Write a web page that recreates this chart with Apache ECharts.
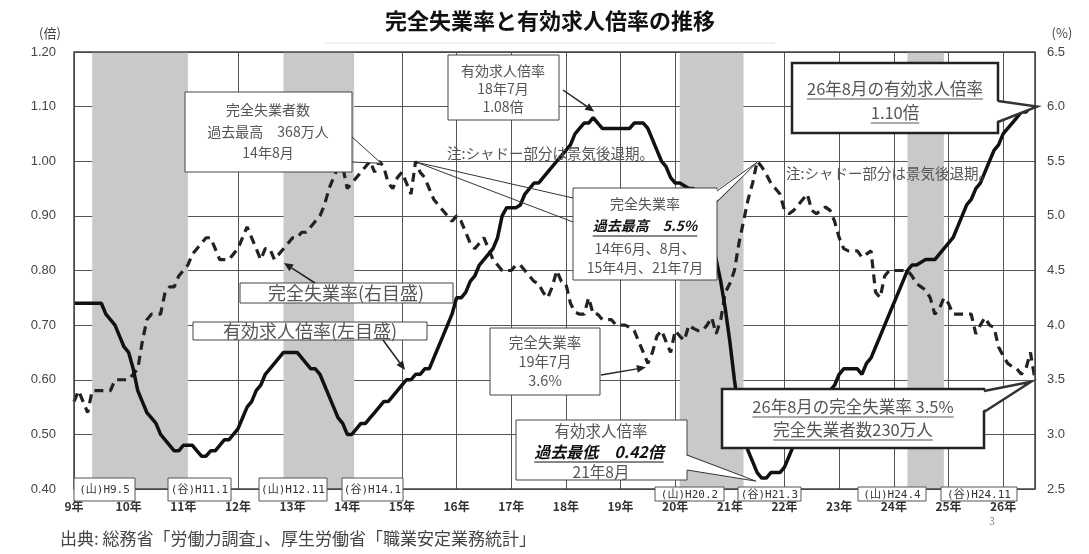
<!DOCTYPE html>
<html><head><meta charset="utf-8">
<script src="https://cdn.jsdelivr.net/npm/echarts/dist/echarts.min.js"></script>
<style>html,body{margin:0;padding:0;background:#fff}#c{width:1089px;height:554px}</style>
</head><body><div id="c"></div>
<script>
// ---- data (month index 0 = 平成9年1月) ----
const xLabels = ['9年','10年','11年','12年','13年','14年','15年','16年','17年','18年','19年','20年','21年','22年','23年','24年','25年','26年'];
// 有効求人倍率 (倍, left axis), monthly
const jobs = [
  0.74,0.74,0.74,0.74,0.74,0.74,0.74,0.72,0.71,0.70,0.68,0.66,
  0.65,0.62,0.58,0.56,0.54,0.53,0.52,0.50,0.49,0.48,0.47,0.47,
  0.48,0.48,0.48,0.47,0.46,0.46,0.47,0.47,0.48,0.49,0.49,0.50,
  0.51,0.53,0.55,0.56,0.58,0.59,0.61,0.62,0.63,0.64,0.65,0.65,
  0.65,0.65,0.64,0.63,0.62,0.62,0.61,0.59,0.57,0.55,0.53,0.52,
  0.50,0.50,0.51,0.52,0.52,0.53,0.54,0.55,0.56,0.56,0.57,0.58,
  0.59,0.60,0.60,0.61,0.61,0.62,0.62,0.64,0.66,0.68,0.70,0.72,
  0.75,0.75,0.76,0.78,0.79,0.81,0.82,0.83,0.84,0.86,0.90,0.915,
  0.915,0.915,0.92,0.94,0.95,0.96,0.96,0.97,0.98,0.99,1.00,1.01,
  1.02,1.03,1.05,1.06,1.07,1.07,1.08,1.07,1.06,1.06,1.06,1.06,
  1.06,1.06,1.06,1.07,1.07,1.07,1.06,1.04,1.02,1.00,0.99,0.97,
  0.96,0.96,0.955,0.95,0.95,0.94,0.91,0.88,0.85,0.82,0.78,0.73,
  0.67,0.60,0.54,0.50,0.47,0.45,0.43,0.42,0.42,0.43,0.43,0.43,
  0.44,0.46,0.48,0.50,0.51,0.52,0.53,0.54,0.55,0.56,0.58,0.59,
  0.61,0.62,0.62,0.62,0.62,0.61,0.63,0.64,0.66,0.68,0.70,0.72,
  0.74,0.76,0.78,0.80,0.81,0.81,0.815,0.82,0.82,0.82,0.83,0.84,
  0.85,0.86,0.88,0.90,0.92,0.93,0.95,0.96,0.98,1.00,1.02,1.03,
  1.05,1.06,1.07,1.08,1.09,1.09,1.10,1.10
];
// 完全失業率 (%, right axis), monthly
const unemp = [
  3.3,3.4,3.3,3.2,3.4,3.4,3.4,3.4,3.4,3.5,3.5,3.5,
  3.5,3.55,3.6,3.85,4.05,4.1,4.1,4.1,4.3,4.35,4.35,4.45,
  4.5,4.55,4.65,4.7,4.75,4.8,4.8,4.7,4.6,4.6,4.6,4.65,
  4.7,4.8,4.9,4.8,4.7,4.6,4.7,4.7,4.6,4.65,4.7,4.75,
  4.8,4.8,4.85,4.85,4.9,4.95,5.0,5.1,5.25,5.35,5.45,5.45,
  5.25,5.3,5.35,5.4,5.45,5.5,5.4,5.5,5.45,5.3,5.25,5.35,
  5.4,5.3,5.2,5.5,5.4,5.35,5.25,5.15,5.1,5.05,5.0,4.95,
  5.0,4.95,4.85,4.75,4.7,4.75,4.8,4.7,4.6,4.55,4.5,4.5,
  4.5,4.55,4.55,4.5,4.45,4.4,4.38,4.3,4.25,4.35,4.5,4.4,
  4.38,4.2,4.12,4.1,4.1,4.25,4.1,4.1,4.05,4.05,4.05,4.0,
  4.0,4.0,3.98,3.95,3.85,3.75,3.65,3.75,3.9,3.95,3.85,3.75,
  3.95,3.9,3.86,4.0,3.97,3.95,3.95,4.0,4.07,3.92,4.05,4.3,
  4.38,4.5,4.75,4.95,5.15,5.3,5.5,5.45,5.38,5.3,5.25,5.2,
  5.05,5.02,5.05,5.1,5.15,5.2,5.05,5.02,5.05,5.08,5.05,4.95,
  4.8,4.7,4.68,4.68,4.68,4.62,4.65,4.68,4.3,4.25,4.45,4.5,
  4.5,4.5,4.5,4.5,4.45,4.38,4.35,4.32,4.25,4.1,4.15,4.25,
  4.2,4.1,4.1,4.1,4.1,4.1,3.92,4.0,4.07,4.0,3.98,3.8,
  3.72,3.65,3.62,3.6,3.55,3.6,3.75,3.5
];
// 景気後退期 (start month, end month)
const recessions = [[4,25],[46,61.5],[133,147],[183,191]];
const turnLabels = ['(山)H9.5','(谷)H11.1','(山)H12.11','(谷)H14.1','(山)H20.2','(谷)H21.3','(山)H24.4','(谷)H24.11'];

const FONT = '"Noto Sans CJK JP","Noto Sans",sans-serif';
const MONO = '"DejaVu Sans Mono","Noto Sans CJK JP",monospace';
const chart = echarts.init(document.getElementById('c'));
const L = 74, T = 52, R = 1035, B = 489;
chart.setOption({
  animation:false,
  grid:{left:L, right:1089-R, top:T, bottom:554-B, show:false},
  xAxis:{type:'value', min:0, max:jobs.length-1, interval:12,
    axisLine:{show:false}, axisTick:{show:false},
    splitLine:{show:true, lineStyle:{color:'#555', width:1}},
    axisLabel:{formatter:v => (v%12===0 ? (xLabels[v/12]||'') : ''), margin:11, color:'#333', fontSize:12, fontWeight:'bold', fontFamily:FONT, showMaxLabel:false}},
  yAxis:[
    {type:'value', min:0.4, max:1.2, interval:0.1, position:'left',
     axisLine:{show:false}, axisTick:{show:false}, splitLine:{lineStyle:{color:'#555', width:1}},
     axisLabel:{formatter:v => v.toFixed(2), margin:18, color:'#444', fontSize:13, fontFamily:'"Liberation Sans",Arial,sans-serif'}},
    {type:'value', min:2.5, max:6.5, interval:0.5, position:'right',
     axisLine:{show:false}, axisTick:{show:false}, splitLine:{show:false},
     axisLabel:{formatter:v => v.toFixed(1), margin:12, color:'#444', fontSize:13, fontFamily:'"Liberation Sans",Arial,sans-serif'}}
  ],
  series:[
    {type:'line', data:jobs.map((v,i)=>[i,v]), symbol:'none', silent:true, lineStyle:{opacity:0}, z:1,
     markArea:{silent:true, itemStyle:{color:'#c9c9c9', opacity:1}, data:recessions.map(r=>[{xAxis:r[0]},{xAxis:r[1]}])}},
    {name:'完全失業率', type:'line', yAxisIndex:1, data:unemp.map((v,i)=>[i,v]), symbol:'none', lineStyle:{color:'#222', width:3.2, type:[9,6]}, z:3},
    {name:'有効求人倍率', type:'line', yAxisIndex:0, data:jobs.map((v,i)=>[i,v]), symbol:'none', lineStyle:{color:'#111', width:3.5}, z:4}
  ]
});

// ---- annotations ----
const pJ = m => chart.convertToPixel({xAxisIndex:0, yAxisIndex:0}, [m, jobs[m]]);
const pU = m => chart.convertToPixel({xAxisIndex:0, yAxisIndex:1}, [m, unemp[m]]);
const mctx = document.createElement('canvas').getContext('2d');
function tw(s, font){ mctx.font = font; return mctx.measureText(s).width; }
const G = [];
function rect(x,y,w,h,lw,stroke){ G.push({type:'rect', z:100, shape:{x,y,width:w,height:h}, style:{fill:'#fff', stroke:stroke||'#444', lineWidth:lw||1}}); }
function txt(s,x,y,font,fill,align,ul){
  fill = fill||'#555'; align = align||'center';
  G.push({type:'text', z:103, x, y, style:{text:s, font, fill, textAlign:align, textVerticalAlign:'middle', align:align, verticalAlign:'middle'}});
  if(ul){ const w = tw(s,font); const x0 = align==='center' ? x-w/2 : x;
    G.push({type:'line', z:103, shape:{x1:x0,y1:y+10,x2:x0+w,y2:y+10}, style:{stroke:fill, lineWidth:1}}); }
}
function wedge(bx, y1, y2, tip, lw, dir){
  const inset = (lw||1) + 1;
  G.push({type:'polygon', z:101, shape:{points:[[bx - dir*inset,y1],tip,[bx - dir*inset,y2]]}, style:{fill:'#fff', stroke:null, lineWidth:0}});
  G.push({type:'polyline', z:102, shape:{points:[[bx,y1],tip,[bx,y2]]}, style:{stroke:'#333', lineWidth:lw||1, fill:null}});
}
function arrow(x1,y1,x2,y2){
  const a = Math.atan2(y2-y1,x2-x1), HL = 9, HW = 4;
  const bx = x2-HL*Math.cos(a), by = y2-HL*Math.sin(a);
  G.push({type:'line', z:102, shape:{x1,y1,x2:bx,y2:by}, style:{stroke:'#222', lineWidth:1.5}});
  G.push({type:'polygon', z:102, shape:{points:[[x2,y2],[bx-HW*Math.sin(a),by+HW*Math.cos(a)],[bx+HW*Math.sin(a),by-HW*Math.cos(a)]]}, style:{fill:'#222'}});
}
// plot border
G.push({type:'rect', z:50, shape:{x:L,y:T,width:R-L,height:B-T}, style:{fill:null, stroke:'#444', lineWidth:1.5}});
// title and units
txt('完全失業率と有効求人倍率の推移', 550, 21, 'bold 22px '+FONT, '#111');
G.push({type:'line', z:99, shape:{x1:325,y1:43,x2:775,y2:43}, style:{stroke:'#e2e2e2', lineWidth:1}});
txt('(倍)', 50, 33, '13px '+FONT, '#444');
txt('(%)', 1062, 33, '13px '+FONT, '#444');

// a) 完全失業者数 過去最高
const pa = pU(67);
wedge(352, 137, 162, [pa[0]+2, pa[1]+2], 1, -1);
rect(185, 92, 167, 80);
txt('完全失業者数', 268, 110, '14px '+FONT);
txt('過去最高　368万人', 268, 132, '14px '+FONT);
txt('14年8月', 268, 153, '14px '+FONT);

// b) 有効求人倍率 18年7月
rect(448, 55, 111, 65);
txt('有効求人倍率', 503, 71, '14px '+FONT);
txt('18年7月', 503, 89, '14px '+FONT);
txt('1.08倍', 503, 107, '14px '+FONT);
const pb = pJ(114);
arrow(563, 90, pb[0]+1, pb[1]-6);

// notes
txt('注:シャドー部分は景気後退期。', 447, 153, '14.5px '+FONT, '#555', 'left');
txt('注:シャドー部分は景気後退期。', 786, 173, '14.5px '+FONT, '#555', 'left');

// d) 完全失業率 過去最高
const pc = pU(75), pd = pU(150);
G.push({type:'polyline', z:102, shape:{points:[[573,198],[pc[0]+1,pc[1]+1],[573,222]]}, style:{stroke:'#333', lineWidth:1, fill:null}});
wedge(717, 191, 202, [pd[0],pd[1]+1], 1, 1);
rect(573, 188, 144, 92);
txt('完全失業率', 645, 204, '14px '+FONT);
txt('過去最高　5.5%', 645, 226, 'italic bold 14px '+FONT, '#111', 'center', true);
txt('14年6月、8月、', 645, 249, '14px '+FONT);
txt('15年4月、21年7月', 645, 268, '14px '+FONT);

// e/f) series labels
rect(240, 283, 213, 20);
txt('完全失業率(右目盛)', 346, 293, '18px '+FONT);
arrow(315, 283, 284, 263);
rect(193, 322, 234, 18);
txt('有効求人倍率(左目盛)', 310, 331, '18px '+FONT);
arrow(383, 340, 405, 370);

// g) 完全失業率 19年7月
rect(490, 328, 110, 67);
txt('完全失業率', 545, 342, '14.5px '+FONT);
txt('19年7月', 545, 361, '14.5px '+FONT);
txt('3.6%', 545, 380, '14.5px '+FONT);
const pg = pU(126);
arrow(601, 375, pg[0]-2, pg[1]+4);

// h) 有効求人倍率 過去最低
const ph = pJ(151);
wedge(687, 455, 470, [ph[0]-6, ph[1]+3], 1, 1);
rect(516, 420, 171, 60);
txt('有効求人倍率', 601, 431, '15.5px '+FONT);
txt('過去最低　0.42倍', 599, 452, 'italic bold 16px '+FONT, '#111', 'center', true);
txt('21年8月', 601, 472, '15.5px '+FONT);

// i) 26年8月の有効求人倍率
const pi = pJ(jobs.length-1);
wedge(998, 101, 122, [pi[0]+2, pi[1]], 2.5, 1);
rect(792, 63, 206, 70, 2.5, '#222');
txt('26年8月の有効求人倍率', 895, 89, '16.5px '+FONT, '#555', 'center', true);
txt('1.10倍', 895, 113, '16.5px '+FONT, '#555', 'center', true);

// j) 26年8月の完全失業率
const pj = pU(unemp.length-1);
wedge(984, 391, 412, [pj[0]-4, pj[1]+2], 2.5, 1);
rect(722, 389, 262, 59, 2.5, '#222');
txt('26年8月の完全失業率 3.5%', 853, 407, '16.5px '+FONT, '#555', 'center', true);
txt('完全失業者数230万人', 853, 430, '16.5px '+FONT, '#555', 'center', true);

// turning-point labels
const tl = [[74,478,61,23],[168,478,63,23],[259,478,68,23],[342,478,61,23],[655,487,69,14],[738,487,63,14],[858,487,68,14],[941,487,76,14]];
tl.forEach((b,i) => { rect(b[0], b[1], b[2], b[3], 1, '#555'); txt(turnLabels[i], b[0]+b[2]/2, b[1]+(b[3]>20?12:8), '11px '+MONO, '#333'); });

txt('3', 992, 521, '10px '+FONT, '#888');
txt('出典: 総務省「労働力調査」、厚生労働省「職業安定業務統計」', 60, 539, '17px '+FONT, '#444', 'left');

chart.setOption({graphic:{elements:G}});
</script></body></html>
